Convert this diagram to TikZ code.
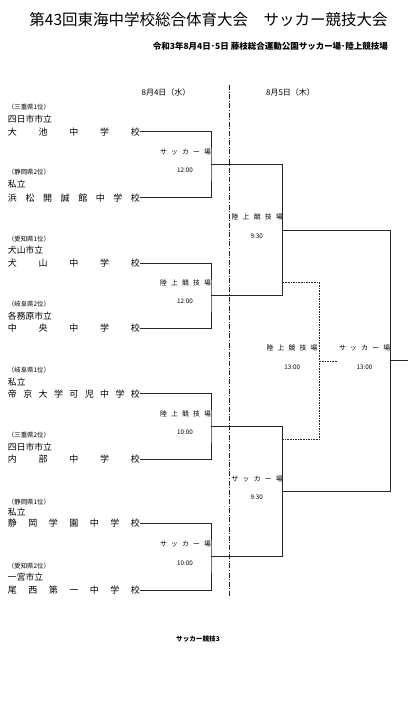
\documentclass[tikz,border=0pt]{standalone}
\usepackage{fontspec}
\setmainfont{Noto Sans CJK JP}
\begin{document}
\begin{tikzpicture}[x=1pt,y=-1pt,
  every node/.style={inner sep=0pt,outer sep=0pt},
  line/.style={line width=1pt,black!85},
  dotline/.style={line width=1pt,black!85,dash pattern=on 1.6pt off 1pt},
  dashdot/.style={line width=0.9pt,black!85,dash pattern=on 5pt off 1.6pt on 1pt off 1.6pt},
  team/.style={anchor=west,font=\fontsize{9}{9}\selectfont},
  kind/.style={anchor=west,font=\fontsize{8.8}{9}\selectfont},
  pref/.style={anchor=west,font=\fontsize{6.4}{7}\selectfont},
  venue/.style={anchor=east,font=\fontsize{6.8}{7}\selectfont},
  timelbl/.style={font=\fontsize{6.3}{7}\selectfont},
  datehdr/.style={font=\fontsize{8}{9}\selectfont}]
\useasboundingbox[fill=white] (0,0) rectangle (420,707);
\newcommand{\spreadtext}[2]{\makebox[#1][s]{#2}}
% titles
\node (title) at (208.5,20) {\fontsize{15.5}{16}\selectfont 第43回東海中学校総合体育大会　サッカー競技大会};
\node[anchor=east] (subtitle) at (388,46) {\fontsize{8.5}{9}\selectfont\bfseries 令和3年8月4日･5日 藤枝総合運動公園サッカー場･陸上競技場};
\node[datehdr] (day1) at (166,92) {8月4日（水）};
\node[datehdr] (day2) at (290.5,92) {8月5日（木）};
% day separator
\coordinate (septop) at (229,85);
\coordinate (sepbot) at (229,597);
\draw[dashdot] (septop) -- (sepbot);
% teams
\node[team] (t1) at (8,131.7) {\spreadtext{132pt}{大\hfill 池\hfill 中\hfill 学\hfill 校}};
\node[kind] (t1k) at (8,118.7) {四日市市立};
\node[pref] (t1p) at (8,106.7) {（三重県1位）};
\node[team] (t2) at (8,197.7) {\spreadtext{132pt}{浜\hfill 松\hfill 開\hfill 誠\hfill 館\hfill 中\hfill 学\hfill 校}};
\node[kind] (t2k) at (8,183.7) {私立};
\node[pref] (t2p) at (8,171.7) {（静岡県2位）};
\node[team] (t3) at (8,263) {\spreadtext{132pt}{犬\hfill 山\hfill 中\hfill 学\hfill 校}};
\node[kind] (t3k) at (8,250.5) {犬山市立};
\node[pref] (t3p) at (8,239) {（愛知県1位）};
\node[team] (t4) at (8,328) {\spreadtext{132pt}{中\hfill 央\hfill 中\hfill 学\hfill 校}};
\node[kind] (t4k) at (8,316) {各務原市立};
\node[pref] (t4p) at (8,304.3) {（岐阜県2位）};
\node[team] (t5) at (8,393.8) {\spreadtext{132pt}{帝\hfill 京\hfill 大\hfill 学\hfill 可\hfill 児\hfill 中\hfill 学\hfill 校}};
\node[kind] (t5k) at (8,381.7) {私立};
\node[pref] (t5p) at (8,370) {（岐阜県1位）};
\node[team] (t6) at (8,459.2) {\spreadtext{132pt}{内\hfill 部\hfill 中\hfill 学\hfill 校}};
\node[kind] (t6k) at (8,447.3) {四日市市立};
\node[pref] (t6p) at (8,435) {（三重県2位）};
\node[team] (t7) at (8,523.5) {\spreadtext{132pt}{静\hfill 岡\hfill 学\hfill 園\hfill 中\hfill 学\hfill 校}};
\node[kind] (t7k) at (8,511.7) {私立};
\node[pref] (t7p) at (8,501.7) {（静岡県1位）};
\node[team] (t8) at (8,590) {\spreadtext{132pt}{尾\hfill 西\hfill 第\hfill 一\hfill 中\hfill 学\hfill 校}};
\node[kind] (t8k) at (8,577.3) {一宮市立};
\node[pref] (t8p) at (8,566) {（愛知県2位）};
% junctions
\coordinate (j1) at (211,164.7);
\coordinate (j2) at (211,295.5);
\coordinate (j3) at (211,426.5);
\coordinate (j4) at (211,556.8);
\coordinate (k1) at (282.7,230.1);
\coordinate (k2) at (282.7,491.6);
\coordinate (fin) at (390.7,360.9);
\coordinate (champ) at (408.3,360.9);
\coordinate (d1) at (282.7,282.7);
\coordinate (d2) at (282.7,439.3);
\coordinate (dm) at (319.3,361);
\coordinate (dstub) at (336.7,361);
% first round
\draw[line] (t1.east) -| (j1) |- (t2.east);
\draw[line] (t3.east) -| (j2) |- (t4.east);
\draw[line] (t5.east) -| (j3) |- (t6.east);
\draw[line] (t7.east) -| (j4) |- (t8.east);
% second round
\draw[line] (j1) -| (k1) |- (j2);
\draw[line] (j3) -| (k2) |- (j4);
% final
\draw[line] (k1) -| (fin) |- (k2);
\draw[line] (fin) -- (champ);
% third place
\draw[dotline] (d1) -| (dm) |- (d2);
\draw[dotline] (dm) -- (dstub);
% venue labels
\newcommand{\soccer}{\spreadtext{51pt}{サ\hfill ッ\hfill カ\hfill ー\hfill 場}}
\newcommand{\track}{\spreadtext{51pt}{陸\hfill 上\hfill 競\hfill 技\hfill 場}}
\node[venue] (v1) at (211,151.7) {\soccer};
\node[timelbl] (h1) at (185,170.7) {12:00};
\node[venue] (v2) at (211,282.5) {\track};
\node[timelbl] (h2) at (185,301.5) {12:00};
\node[venue] (v3) at (211,413.5) {\track};
\node[timelbl] (h3) at (185,432.5) {10:00};
\node[venue] (v4) at (211,543.8) {\soccer};
\node[timelbl] (h4) at (185,562.8) {10:00};
\node[venue] (v5) at (282.7,217.1) {\track};
\node[timelbl] (h5) at (256.7,236.1) {9:30};
\node[venue] (v6) at (282.7,478.6) {\soccer};
\node[timelbl] (h6) at (256.7,497.6) {9:30};
\node[venue] (v7) at (317.5,348) {\track};
\node[timelbl] (h7) at (292.3,367) {13:00};
\node[venue] (v8) at (390.2,347.9) {\soccer};
\node[timelbl] (h8) at (364.5,366.9) {13:00};
% footer
\node (footer) at (198,639) {\fontsize{6.6}{7}\selectfont\bfseries サッカー競技3};
\end{tikzpicture}
\end{document}
